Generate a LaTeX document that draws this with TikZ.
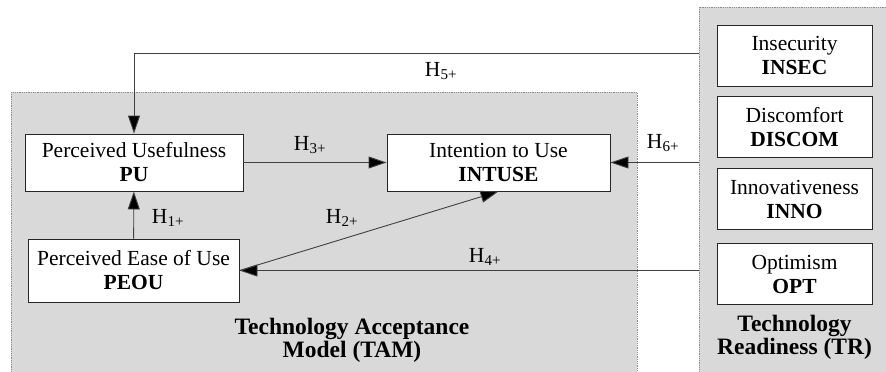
\documentclass[tikz,border=0pt]{standalone}
\usepackage{fontspec}
\setmainfont{Liberation Serif}
\usetikzlibrary{positioning, arrows.meta}

\begin{document}
\begin{tikzpicture}[
    x=1pt, y=-1pt,
    txt/.style={font=\fontsize{21.5}{24}\selectfont},
    box/.style={draw=black!85, line width=0.9pt, fill=white, align=center, inner sep=0pt, txt},
    grp/.style={draw=black!45, densely dotted, line width=0.8pt, fill=black!15},
    lnk/.style={draw=black!75, line width=0.9pt, -{Triangle[length=18pt,width=12pt,fill=black]}},
    ttl/.style={align=center, font=\fontsize{23.5}{23}\selectfont\bfseries}
  ]
  \clip (0,0) rectangle (886,372);
  \fill[white] (0,0) rectangle (886,372);
  \draw[grp] (11,92) rectangle (637,390);
  \draw[grp] (699,7) rectangle (900,390);

  \node[box, minimum width=218, minimum height=57] (pu) at (134,162.5) {Perceived Usefulness\\\textbf{PU}};
  \node[box, minimum width=223, minimum height=57] (intuse) at (498.5,162.5) {Intention to Use\\\textbf{INTUSE}};
  \node[box, minimum width=211, minimum height=63] (peou) at (133.5,270.5) {Perceived Ease of Use\\\textbf{PEOU}};
  \foreach \y/\n/\t/\s in {55.5/insec/Insecurity/INSEC, 127/discom/Discomfort/DISCOM, 199/inno/Innovativeness/INNO, 274/opt/Optimism/OPT}{
    \node[box, minimum width=155, minimum height=61] (\n) at (794.5,\y) {\t\\\textbf{\s}};
  }
  \node[ttl] (tam) at (352,340) {Technology Acceptance\\Model (TAM)};
  \node[ttl] (tr) at (794.5,337) {Technology\\Readiness (TR)};

  \coordinate (h5) at (699,53);
  \coordinate (h6) at (699,162.5);
  \coordinate (h4) at (699,270.5);
  \draw[lnk] (h5) -| (pu.north);
  \draw[lnk] (h6) -- (intuse.east);
  \draw[lnk] (h4) -- (peou.east);
  \draw[lnk] (pu) -- (intuse);
  \draw[lnk] (peou) -- (pu);
  \draw[lnk] (peou.east) -- (intuse.south);

  \node[txt] (l5) at (441,71) {H\textsubscript{5+}};
  \node[txt] (l3) at (310,145) {H\textsubscript{3+}};
  \node[txt] (l6) at (663,143) {H\textsubscript{6+}};
  \node[txt] (l1) at (168,218) {H\textsubscript{1+}};
  \node[txt] (l2) at (342,218) {H\textsubscript{2+}};
  \node[txt] (l4) at (485,257) {H\textsubscript{4+}};
\end{tikzpicture}
\end{document}
